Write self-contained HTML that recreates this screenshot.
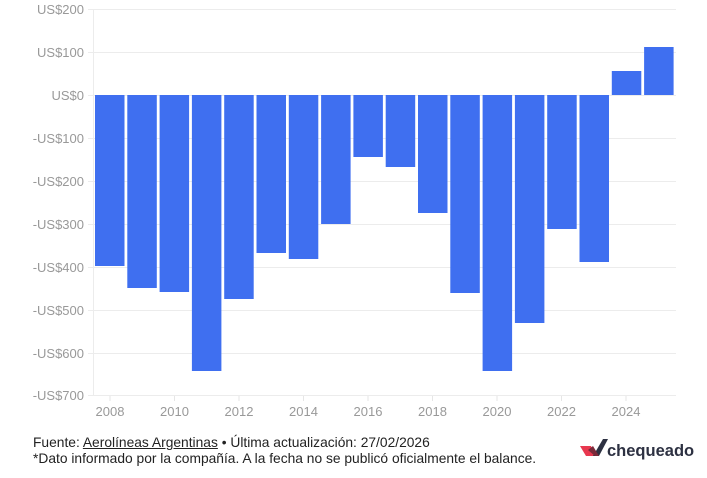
<!DOCTYPE html>
<html><head><meta charset="utf-8"><style>
body{margin:0;background:#fff;width:707px;height:478px;overflow:hidden;font-family:"Liberation Sans",sans-serif}
.f{position:absolute;left:33px;font-size:13.8px;color:#222;line-height:15px;white-space:nowrap}
</style></head><body>
<svg width="707" height="478" style="position:absolute;left:0;top:0" font-family="Liberation Sans, sans-serif">
<g stroke="#ececec" stroke-width="1">
<line x1="88" x2="676" y1="9.5" y2="9.5"/><line x1="88" x2="676" y1="52.5" y2="52.5"/><line x1="88" x2="676" y1="95.5" y2="95.5"/>
<line x1="88" x2="676" y1="138.5" y2="138.5"/><line x1="88" x2="676" y1="181.5" y2="181.5"/><line x1="88" x2="676" y1="224.5" y2="224.5"/>
<line x1="88" x2="676" y1="267.5" y2="267.5"/><line x1="88" x2="676" y1="310.5" y2="310.5"/><line x1="88" x2="676" y1="353.5" y2="353.5"/>
<line x1="88" x2="676" y1="395.5" y2="395.5"/>
<line x1="93.5" x2="93.5" y1="9" y2="396"/>
</g>
<g stroke="#e6e6e6"><line x1="110" x2="110" y1="396" y2="401"/><line x1="174.5" x2="174.5" y1="396" y2="401"/><line x1="239" x2="239" y1="396" y2="401"/><line x1="303.5" x2="303.5" y1="396" y2="401"/><line x1="368" x2="368" y1="396" y2="401"/><line x1="432.5" x2="432.5" y1="396" y2="401"/><line x1="497" x2="497" y1="396" y2="401"/><line x1="561.5" x2="561.5" y1="396" y2="401"/><line x1="626" x2="626" y1="396" y2="401"/></g>
<g fill="#999" font-size="13" text-anchor="end">
<text x="84" y="14">US$200</text><text x="84" y="57">US$100</text><text x="84" y="100">US$0</text>
<text x="84" y="143">-US$100</text><text x="84" y="186">-US$200</text><text x="84" y="229">-US$300</text>
<text x="84" y="272">-US$400</text><text x="84" y="315">-US$500</text><text x="84" y="358">-US$600</text><text x="84" y="400">-US$700</text>
</g>
<g fill="#999" font-size="13" text-anchor="middle">
<text x="110" y="416">2008</text><text x="174.5" y="416">2010</text><text x="239" y="416">2012</text><text x="303.5" y="416">2014</text><text x="368" y="416">2016</text><text x="432.5" y="416">2018</text><text x="497" y="416">2020</text><text x="561.5" y="416">2022</text><text x="626" y="416">2024</text>
</g>
<g fill="#3f6ff0">
<rect x="95" y="95" width="29.5" height="171"/>
<rect x="127.3" y="95" width="29.5" height="193"/>
<rect x="159.6" y="95" width="29.5" height="197"/>
<rect x="191.9" y="95" width="29.5" height="276"/>
<rect x="224.2" y="95" width="29.5" height="204"/>
<rect x="256.5" y="95" width="29.5" height="158"/>
<rect x="288.8" y="95" width="29.5" height="164"/>
<rect x="321.1" y="95" width="29.5" height="129"/>
<rect x="353.4" y="95" width="29.5" height="62"/>
<rect x="385.7" y="95" width="29.5" height="72"/>
<rect x="418" y="95" width="29.5" height="118"/>
<rect x="450.3" y="95" width="29.5" height="198"/>
<rect x="482.6" y="95" width="29.5" height="276"/>
<rect x="514.9" y="95" width="29.5" height="228"/>
<rect x="547.2" y="95" width="29.5" height="134"/>
<rect x="579.5" y="95" width="29.5" height="167"/>
<rect x="611.8" y="71" width="29.5" height="24"/>
<rect x="644.1" y="47" width="29.5" height="48"/>
</g>
<polygon points="580,446 591,446 595,456 586,456" fill="#e8384f"/>
<polygon points="593,456 603,439 608,439 599,456" fill="#2d3142"/>
<polygon points="588,450 595,456 599,456 593,446" fill="#7a2a3a"/>
<text x="607" y="456" font-size="16.5" font-weight="bold" fill="#2d3142">chequeado</text>
</svg>
<div class="f" style="top:435px">Fuente: <u>Aerolíneas Argentinas</u> • Última actualización: 27/02/2026</div>
<div class="f" style="top:451px">*Dato informado por la compañía. A la fecha no se publicó oficialmente el balance.</div>
</body></html>
